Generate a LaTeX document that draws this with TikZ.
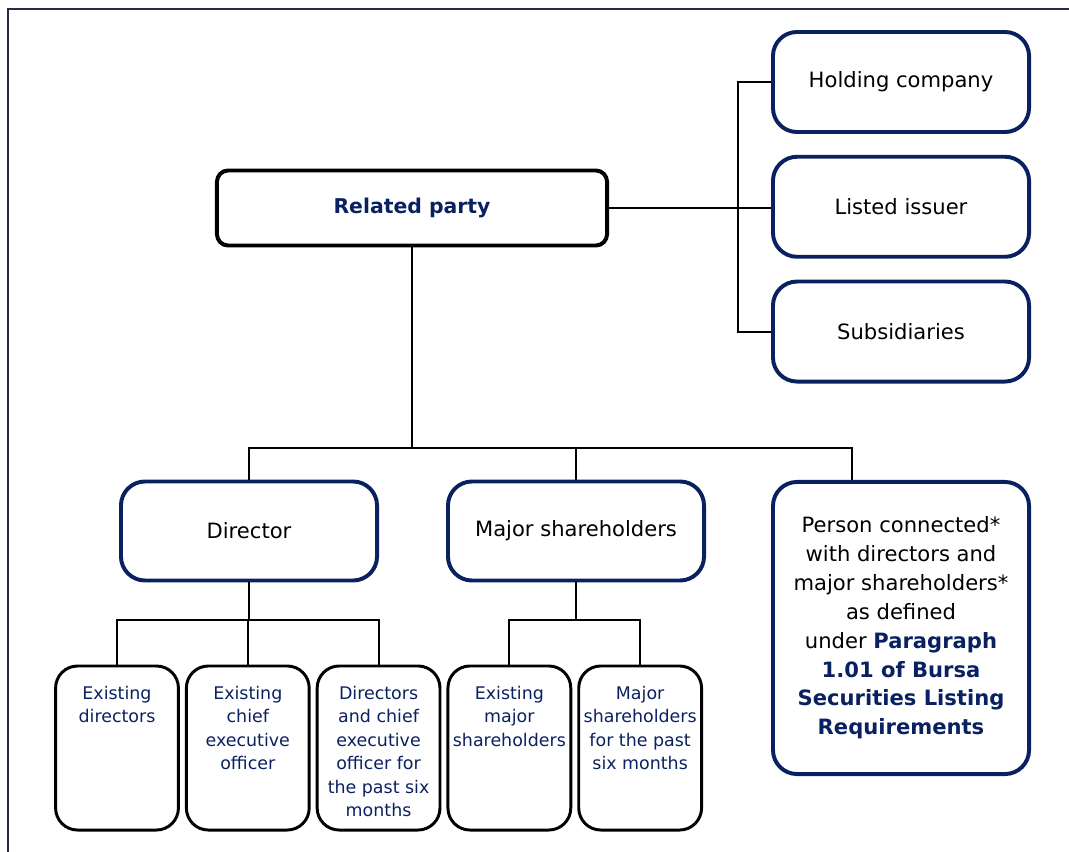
\documentclass[tikz,border=0pt]{standalone}
\usepackage{fontspec}
\setmainfont{DejaVu Sans}
\usetikzlibrary{positioning}
\definecolor{navy-bursa}{rgb}{.04,.13,.38}
\definecolor{frame-grey}{rgb}{.16,.16,.3}
\newcommand{\leaftext}[1]{\begin{minipage}[c][4.1cm][t]{3cm}\centering\vspace*{0.5cm}#1\end{minipage}}
\newcommand{\bursa}[1]{\textcolor{navy-bursa}{\bfseries #1}}

\begin{document}
\begin{tikzpicture}[x=0.025cm, y=-0.025cm, line width=1.4pt,
	   font=\fontsize{15}{20.5}\selectfont,
	   top/.style={draw, line width=2.8pt, rounded corners=8pt, minimum width=9.75cm, minimum height=1.875cm, text=navy-bursa, font=\fontsize{14.5}{18}\selectfont\bfseries},
	   side/.style={draw=navy-bursa, line width=2.8pt, rounded corners=0.6cm, minimum width=6.4cm, minimum height=2.5cm, align=center},
	   leaf/.style={draw, line width=2.1pt, rounded corners=0.55cm, inner sep=0pt, minimum width=3.07cm, text=navy-bursa, font=\fontsize{12.4}{16.7}\selectfont}]
	  \useasboundingbox (0,0) rectangle (1069,852);
	  \draw[line width=2pt, frame-grey] (8,860) -- (8,9) -- (1075,9);
	  \node[top] (rp) at (412,208) {Related party};
	  \node[side] (hold) at (901,82) {Holding company};
	  \node[side, below=0.52cm of hold] (lst) {Listed issuer};
	  \node[side, below=0.52cm of lst] (sub) {Subsidiaries};
	  \node[side, minimum height=2.475cm] (dir) at (249,531) {Director};
	  \node[side, minimum height=2.475cm] (maj) at (576,531) {Major shareholders};
	  \node[side, minimum height=7.3cm] (pers) at (901,628) {Person connected*\\ with directors and\\ major shareholders*\\ as defined\\ under \bursa{Paragraph}\\ \bursa{1.01 of Bursa}\\ \bursa{Securities Listing}\\ \bursa{Requirements}};
	  \node[leaf] (d1) at (117,748) {\leaftext{Existing\\ directors}};
	  \node[leaf, right=0.125cm of d1] (d2) {\leaftext{Existing\\ chief\\ executive\\ officer}};
	  \node[leaf, right=0.125cm of d2] (d3) {\leaftext{Directors\\ and chief\\ executive\\ officer for\\ the past six\\ months}};
	  \node[leaf, right=0.125cm of d3] (m1) {\leaftext{Existing\\ major\\ shareholders}};
	  \node[leaf, right=0.125cm of m1] (m2) {\leaftext{Major\\ shareholders\\ for the past\\ six months}};
	  \coordinate (brk) at (738,208);
	  \coordinate (bus) at (0,448);
	  \coordinate (pin) at (852,0);
	  \coordinate (dbus) at (0,620);
	  % right side bracket
	  \draw (rp.east) -- (rp.east -| lst.west);
	  \draw (hold.west) -| (brk) |- (sub.west);
	  % main bus
	  \draw (rp.south) -- (rp.south |- bus);
	  \draw (dir.north) -- (dir.north |- bus) -- (pin |- bus) -- (pin |- pers.north);
	  \draw (maj.north) -- (maj.north |- bus);
	  % leaves
	  \draw (dir.south) -- (dir.south |- dbus);
	  \draw (d1.north) -- (d1.north |- dbus) -- (d3.north |- dbus) -- (d3.north);
	  \draw (d2.north) -- (d2.north |- dbus);
	  \draw (maj.south) -- (maj.south |- dbus);
	  \draw (m1.north) -- (m1.north |- dbus) -- (m2.north |- dbus) -- (m2.north);
	\end{tikzpicture}
\end{document}
